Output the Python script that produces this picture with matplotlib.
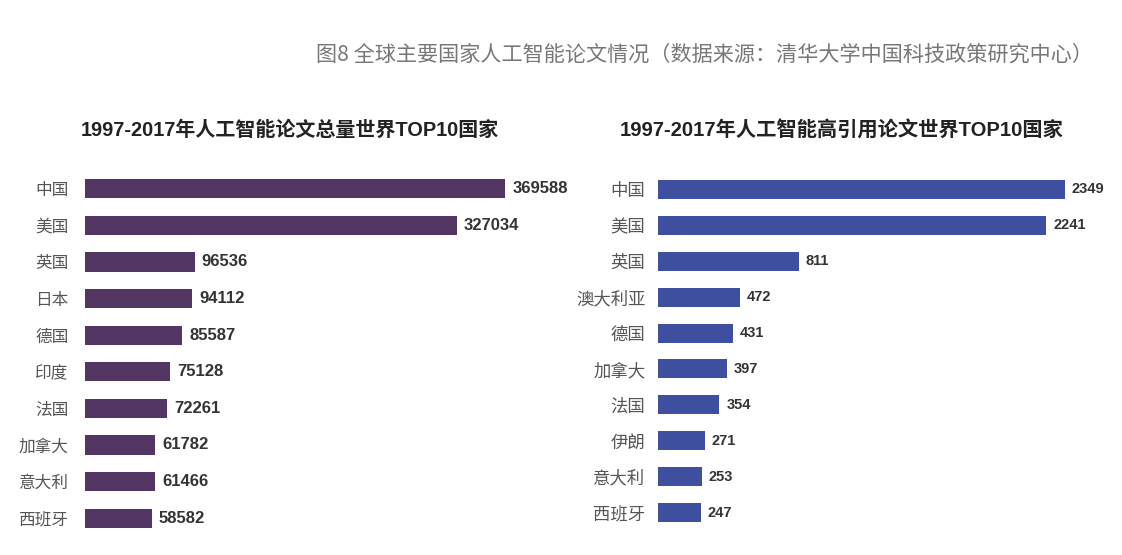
import matplotlib
matplotlib.use("Agg")
import matplotlib.pyplot as plt

plt.rcParams["font.family"] = ["Noto Sans CJK SC", "DejaVu Sans"]

# left panel: total AI papers 1997-2017
total_countries = ["中国", "美国", "英国", "日本", "德国", "印度", "法国", "加拿大", "意大利", "西班牙"]
total_values = [369588, 327034, 96536, 94112, 85587, 75128, 72261, 61782, 61466, 58582]

# right panel: highly cited AI papers 1997-2017
cited_countries = ["中国", "美国", "英国", "澳大利亚", "德国", "加拿大", "法国", "伊朗", "意大利", "西班牙"]
cited_values = [2349, 2241, 811, 472, 431, 397, 354, 271, 253, 247]

title = "图8 全球主要国家人工智能论文情况（数据来源：清华大学中国科技政策研究中心）"
left_title = "1997-2017年人工智能论文总量世界TOP10国家"
right_title = "1997-2017年人工智能高引用论文世界TOP10国家"

W, H = 1122, 555
fig = plt.figure(figsize=(W / 100, H / 100), dpi=100)
fig.patch.set_facecolor("white")


def px_axes(x0, x1, ytop, ybot):
    return fig.add_axes([x0 / W, 1 - ybot / H, (x1 - x0) / W, (ybot - ytop) / H])


def draw_panel(ax, names, values, color, label_size, value_size, label_pad):
    ys = range(len(names))
    ax.barh(ys, values, height=0.53, color=color)
    ax.set_xlim(0, max(values))
    ax.set_ylim(len(names) - 0.5, -0.5)
    for y, v in zip(ys, values):
        ax.text(v + 0.017 * max(values), y, str(v), va="center", ha="left",
                fontsize=value_size, fontweight="bold", color="#333333",
                family=["Liberation Sans", "DejaVu Sans"], clip_on=False)
    ax.set_yticks(list(ys))
    ax.set_yticklabels(names, fontsize=label_size, color="#555555")
    ax.tick_params(axis="y", length=0, pad=label_pad)
    ax.set_xticks([])
    for s in ax.spines.values():
        s.set_visible(False)
    ax.patch.set_alpha(0)


ax1 = px_axes(85, 505, 170.5, 536.5)
draw_panel(ax1, total_countries, total_values, "#523562", 12, 12, 12)

ax2 = px_axes(658, 1065, 171.5, 530.5)
draw_panel(ax2, cited_countries, cited_values, "#3e4f9f", 12.5, 10.5, 9)

fig.text(704 / W, 1 - 55 / H, title, ha="center", va="center",
         fontsize=15.2, fontweight="light", color="#777777")
fig.text(290 / W, 1 - 130 / H, left_title, ha="center", va="center",
         fontsize=14.4, fontweight="bold", color="#222222",
         family=["Liberation Sans", "Noto Sans CJK SC"])
fig.text(842 / W, 1 - 130 / H, right_title, ha="center", va="center",
         fontsize=14.6, fontweight="bold", color="#222222",
         family=["Liberation Sans", "Noto Sans CJK SC"])

fig.savefig("out.png", dpi=100)
